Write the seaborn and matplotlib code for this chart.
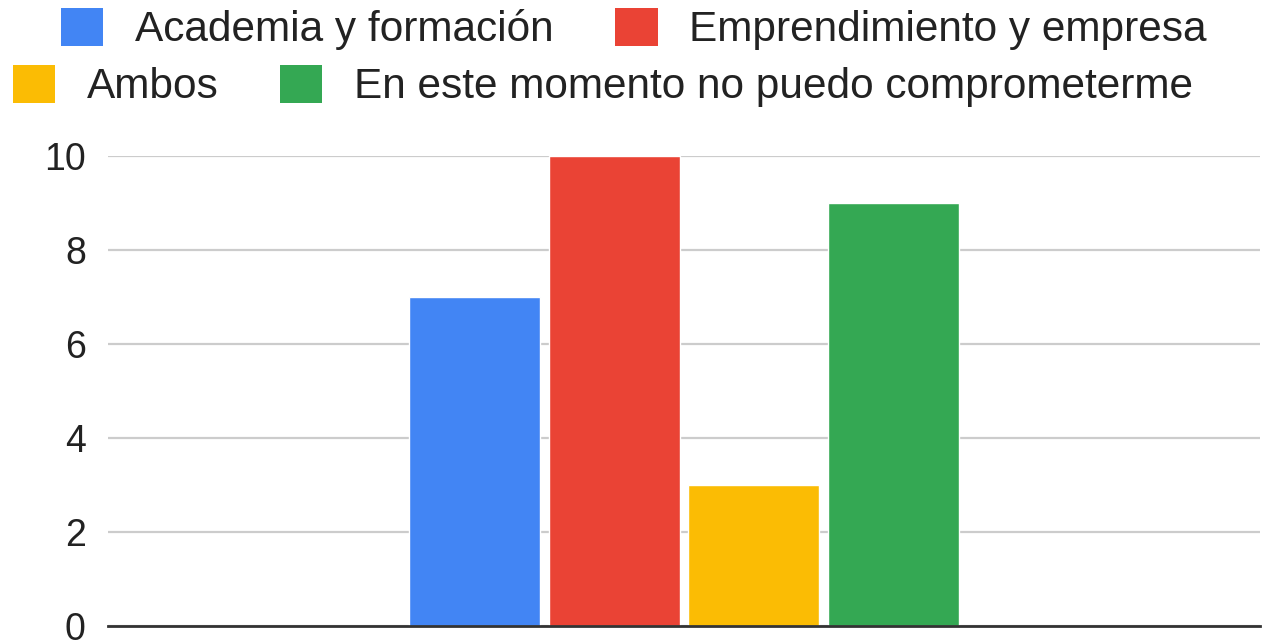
import matplotlib
matplotlib.use("Agg")
import matplotlib.pyplot as plt
import seaborn as sns
import pandas as pd
from matplotlib.patches import Patch

categories = [""]
series = ["Academia y formación", "Emprendimiento y empresa", "Ambos",
          "En este momento no puedo comprometerme"]
values = [7, 10, 3, 9]
colors = ["#4285F4", "#EA4335", "#FBBC04", "#34A853"]
yticks = [0, 2, 4, 6, 8, 10]

sns.set_theme(style="white")
plt.rcParams["font.family"] = ["Liberation Sans", "DejaVu Sans"]

df = pd.DataFrame({"cat": categories * len(series), "series": series, "value": values})

fig = plt.figure(figsize=(12.62, 6.43), dpi=100)
ax = fig.add_axes([108 / 1262, 1 - 626 / 643, 1152 / 1262, (626 - 156) / 643])

sns.barplot(data=df, x="cat", y="value", hue="series", hue_order=series,
            palette=colors, width=0.486, gap=0.064, saturation=1,
            legend=False, ax=ax)

ax.set_xlim(-0.5, 0.5)
ax.set_ylim(0, 10)
ax.set_yticks(yticks)
ax.set_yticklabels([str(t) for t in yticks])
ax.set_xticks([])
ax.set_xlabel("")
ax.set_ylabel("")
ax.yaxis.grid(True, color="#cccccc", linewidth=1.6)
ax.set_axisbelow(True)
ax.tick_params(axis="y", length=0, pad=16, labelsize=27, labelcolor="#222222")
for s in ["top", "right", "left"]:
    ax.spines[s].set_visible(False)
ax.spines["bottom"].set_color("#333333")
ax.spines["bottom"].set_linewidth(2)
ax.spines["bottom"].set_zorder(5)

handles = [Patch(facecolor=c, edgecolor="none") for c in colors]
common = dict(frameon=False, ncol=2, fontsize=30.5, handlelength=1.0,
              handleheight=1.0, handletextpad=0.75, columnspacing=1.45,
              borderpad=0, borderaxespad=0, loc="center", labelcolor="#222222")
fig.legend(handles[:2], series[:2], bbox_to_anchor=(634 / 1262, 1 - 29 / 643), **common)
fig.legend(handles[2:], series[2:], bbox_to_anchor=(603 / 1262, 1 - 86 / 643), **common)

fig.savefig("out.png", dpi=100)
